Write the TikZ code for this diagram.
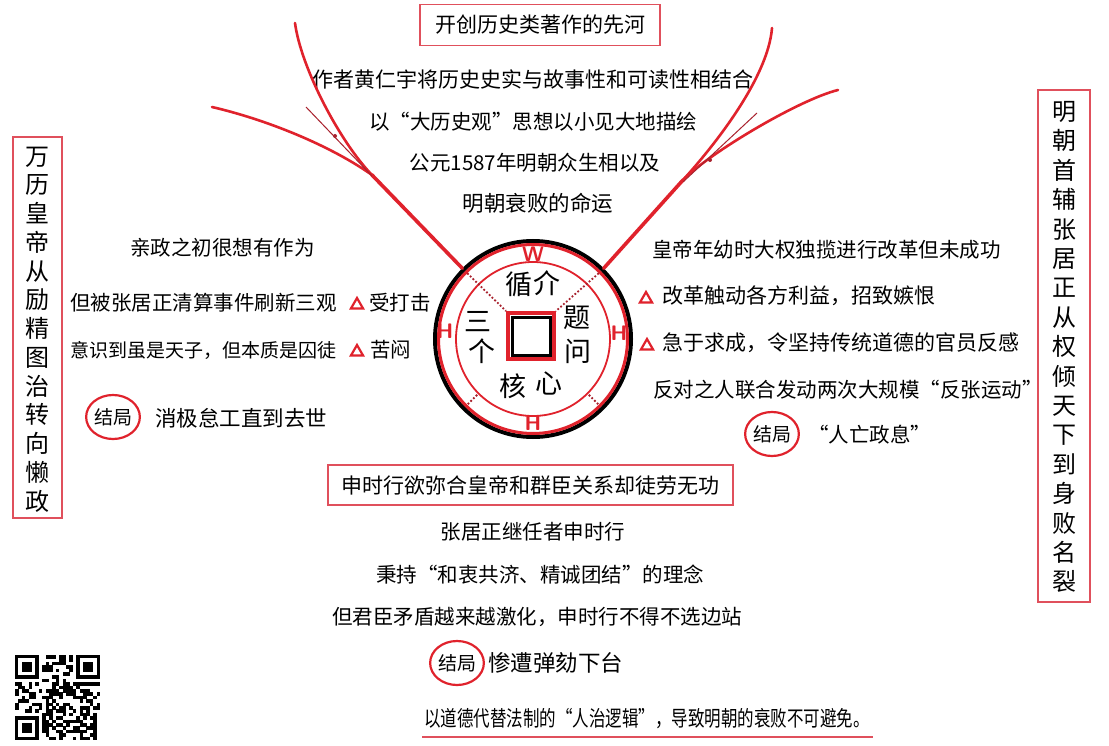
\documentclass[tikz,border=0pt]{standalone}
\usepackage{fontspec}
\setmainfont{Noto Sans CJK SC}
\usetikzlibrary{shapes.geometric,calc}
\definecolor{lred}{HTML}{E0222C}
\definecolor{bred}{HTML}{E0505C}
\definecolor{dred}{HTML}{A8222E}
\begin{document}
\begin{tikzpicture}[x=1pt,y=-1pt,
  txt/.style={font=\fontsize{20.5}{24}\selectfont, inner sep=0pt, text=black},
  rbox/.style={draw=bred, line width=1.6pt, inner sep=0pt, text=black},
  tri/.style={regular polygon, regular polygon sides=3, draw=lred, line width=2.2pt, fill=white, minimum size=14pt, inner sep=0pt},
  endc/.style={ellipse, draw=lred, line width=2.2pt, minimum width=52pt, minimum height=44pt, inner sep=0pt, font=\fontsize{19}{19}\selectfont},
  compass/.style={text=lred, font=\sffamily\bfseries\fontsize{21}{21}\selectfont, inner sep=0pt},
  coinch/.style={font=\fontsize{27}{27}\selectfont, inner sep=0pt},
  redline/.style={draw=lred, line cap=round},
  guide/.style={draw=dred, line width=1pt},
  vtext/.style={inner sep=0pt, align=center, text=black}
]
\useasboundingbox (0,0) rectangle (1109,746);
\fill[white] (0,0) rectangle (1109,746);

% ---------- top ----------
\node[rbox, minimum width=240pt, minimum height=41pt, font=\fontsize{21}{24}\selectfont] (title) at (540,25) {开创历史类著作的先河};
\node[txt, font=\fontsize{21}{24}\selectfont] (t1) at (533,80) {作者黄仁宇将历史史实与故事性和可读性相结合};
\node[txt] (t2) at (533,122) {以“大历史观”思想以小见大地描绘};
\node[txt] (t3) at (535,163) {公元1587年明朝众生相以及};
\node[txt, font=\fontsize{21.5}{24}\selectfont] (t4) at (538,203) {明朝衰败的命运};

% ---------- coin ----------
\node[circle, draw=black, line width=4pt, minimum size=196pt, inner sep=0pt] (coin) at (533,339) {};
\draw[lred, line width=3pt] (coin.center) circle[radius=94.5pt];
\draw[lred, line width=1.8pt] (coin.center) circle[radius=77pt];
\node[draw=lred, line width=4pt, minimum size=46pt, inner sep=0pt] (sq) at (531,336) {};
\node[draw=black, line width=3pt, minimum size=38pt, inner sep=0pt] (sqi) at (531,336) {};
\node[compass] (cw) at (533,254) {W};
\node[compass] (ch1) at (445,331) {H};
\node[compass] (ch2) at (619,333) {H};
\node[compass] (ch3) at (533,423) {H};
\coordinate (dnw) at ([shift={(135:93pt)}]coin.center);
\coordinate (dne) at ([shift={(45:93pt)}]coin.center);
\coordinate (dsw1) at ([shift={(225:79pt)}]coin.center);
\coordinate (dsw2) at ([shift={(225:93pt)}]coin.center);
\coordinate (dse1) at ([shift={(315:79pt)}]coin.center);
\coordinate (dse2) at ([shift={(315:93pt)}]coin.center);
\draw[dred, line width=1.8pt, dotted] (dnw) -- (sq.north west);
\draw[dred, line width=1.8pt, dotted] (dne) -- (sq.north east);
\draw[dred, line width=1.8pt, dotted] (dsw1) -- (dsw2);
\draw[dred, line width=1.8pt, dotted] (dse1) -- (dse2);
\node[coinch] (c1) at (519,284) {循};
\node[coinch] (c2) at (547,283) {介};
\node[coinch] (c3) at (577,318) {题};
\node[coinch] (c4) at (578,351) {问};
\node[coinch] (c5) at (478,322) {三};
\node[coinch] (c6) at (482,351) {个};
\node[coinch] (c7) at (513,386) {核};
\node[coinch] (c8) at (549,383) {心};

% ---------- red branch lines ----------
\coordinate (jl) at (372,175);
\coordinate (la) at (295,23);
\coordinate (lb) at (212,107);
\draw[redline, line width=3.6pt] (coin.135) -- (jl);
\draw[redline, line width=2.6pt] (jl) .. controls (340,142) and (301,68) .. (la);
\draw[redline, line width=2.6pt] (jl) .. controls (334,148) and (272,121) .. (lb);
\coordinate (gl1) at (306,107);
\coordinate (gl2) at (372,176);
\draw[guide] (gl1) -- (gl2);
\node[circle, fill=dred, minimum size=4pt, inner sep=0pt] (gld) at (335,136) {};

\coordinate (jr) at (683,180);
\coordinate (ra) at (772,28);
\coordinate (rb) at (838,90);
\draw[redline, line width=3.6pt] (coin.45) -- (jr);
\draw[redline, line width=2.6pt] (jr) .. controls (714,146) and (768,78) .. (ra);
\draw[redline, line width=2.6pt] (jr) .. controls (708,154) and (798,100) .. (rb);
\coordinate (gr1) at (757,113);
\coordinate (gr2) at (683,182);
\draw[guide] (gr1) -- (gr2);
\node[circle, fill=dred, minimum size=4pt, inner sep=0pt] (grd) at (710,160) {};

% ---------- left block ----------
\node[txt, anchor=west] (l1) at (130,248) {亲政之初很想有作为};
\node[txt, anchor=west] (l2) at (70,303) {但被张居正清算事件刷新三观};
\node[tri] (lt1) at (357,305) {};
\node[txt, anchor=west] (l2b) at (369,303) {受打击};
\node[txt, anchor=west, font=\fontsize{19}{24}\selectfont] (l3) at (70,350) {意识到虽是天子，但本质是囚徒};
\node[tri] (lt2) at (357,352) {};
\node[txt, anchor=west] (l3b) at (370,350) {苦闷};
\node[endc] (le) at (113,417) {结局};
\node[txt, anchor=west, font=\fontsize{21.5}{24}\selectfont] (l4) at (155,418) {消极怠工直到去世};

% ---------- right block ----------
\node[txt, anchor=west] (r1) at (652,250) {皇帝年幼时大权独揽进行改革但未成功};
\node[tri] (rt1) at (646,299) {};
\node[txt, anchor=west, font=\fontsize{21}{24}\selectfont] (r2) at (662,296) {改革触动各方利益，招致嫉恨};
\node[tri] (rt2) at (647,346) {};
\node[txt, anchor=west, font=\fontsize{21}{24}\selectfont] (r3) at (662,343) {急于求成，令坚持传统道德的官员反感};
\node[txt, anchor=west] (r4) at (653,390) {反对之人联合发动两次大规模“反张运动”};
\node[endc] (re) at (772,434) {结局};
\node[txt, anchor=west] (r5) at (808,435) {“人亡政息”};

% ---------- bottom block ----------
\node[rbox, minimum width=405pt, minimum height=40pt, font=\fontsize{21}{24}\selectfont] (sub) at (530.5,485) {申时行欲弥合皇帝和群臣关系却徒劳无功};
\node[txt] (b1) at (533,532) {张居正继任者申时行};
\node[txt] (b2) at (540,575) {秉持“和衷共济、精诚团结”的理念};
\node[txt] (b3) at (537,617) {但君臣矛盾越来越激化，申时行不得不选边站};
\node[endc] (be) at (457,663) {结局};
\node[txt, anchor=west, font=\fontsize{22.5}{24}\selectfont] (b4) at (488,663) {惨遭弹劾下台};
\node[txt, font=\fontsize{16.5}{20}\selectfont] (concl) at (647,719) {\scalebox{1}[1.3]{以道德代替法制的“人治逻辑”，导致明朝的衰败不可避免。}};
\coordinate (u1) at (422,737);
\coordinate (u2) at (873,737);
\draw[bred, line width=2.2pt] (u1) -- (u2);

% ---------- vertical boxes ----------
\node[rbox, minimum width=49pt, minimum height=381pt] (lv) at (37.5,327.5) {};
\node[vtext, font=\fontsize{24}{28.75}\selectfont] (lvt) at (37.5,329.5) {万\\历\\皇\\帝\\从\\励\\精\\图\\治\\转\\向\\懒\\政};
\node[rbox, minimum width=52pt, minimum height=512pt] (rv) at (1064,346) {};
\node[vtext, font=\fontsize{24}{29.4}\selectfont] (rvt) at (1064,347) {明\\朝\\首\\辅\\张\\居\\正\\从\\权\\倾\\天\\下\\到\\身\\败\\名\\裂};

% ---------- QR code ----------
\begin{scope}[shift={(15,655)}]
  \pgfmathsetseed{12}
  \foreach \i in {0,...,24}{
    \foreach \j in {0,...,24}{
      \pgfmathtruncatemacro\qrskip{((\i<8)&&(\j<8))||((\i>16)&&(\j<8))||((\i<8)&&(\j>16))}
      \pgfmathtruncatemacro\qron{rnd<0.48}
      \ifnum\qrskip=0 \ifnum\qron=1
        \fill[black] (\i*3.4,\j*3.4) rectangle ++(3.5,3.5);
      \fi\fi
    }
  }
  \foreach \a/\b in {0/0,18/0,0/18}{
    \fill[black] (\a*3.4,\b*3.4) rectangle ++(23.8,23.8);
    \fill[white] (\a*3.4+3.4,\b*3.4+3.4) rectangle ++(17,17);
    \fill[black] (\a*3.4+6.8,\b*3.4+6.8) rectangle ++(10.2,10.2);
  }
\end{scope}
\end{tikzpicture}
\end{document}
